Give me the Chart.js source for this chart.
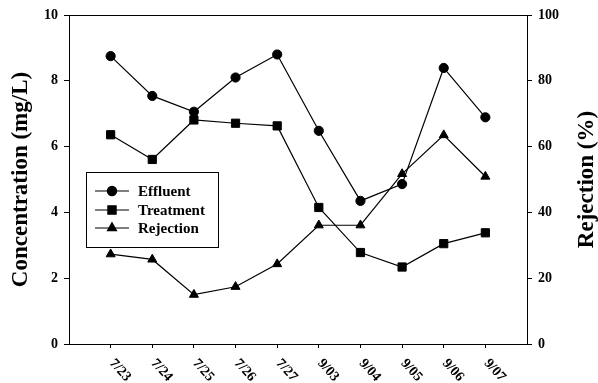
<!DOCTYPE html>
<html>
<head>
<meta charset="utf-8">
<script src="https://cdn.jsdelivr.net/npm/chart.js@4"></script>
<style>
  html, body { margin: 0; padding: 0; background: #fff; }
  #wrap { width: 598px; height: 383px; }
</style>
</head>
<body>
<div id="wrap"><canvas id="c" width="598" height="383"></canvas></div>
<script>
// Sampling dates (July and September)
const dates = ['7/23', '7/24', '7/25', '7/26', '7/27', '9/03', '9/04', '9/05', '9/06', '9/07'];
// Concentrations, mg/L
const effluent = [8.75, 7.54, 7.06, 8.10, 8.80, 6.48, 4.35, 4.86, 8.39, 6.89];
const treatment = [6.36, 5.61, 6.81, 6.71, 6.63, 4.15, 2.78, 2.34, 3.05, 3.38];
// Rejection, %
const rejection = [27.3, 25.7, 15.0, 17.4, 24.3, 36.1, 36.1, 51.7, 63.5, 50.9];
// Axis tick values
const concTicks = [0, 2, 4, 6, 8, 10];
const rejTicks = [0, 20, 40, 60, 80, 100];

const FONT = '"Liberation Serif", "Times New Roman", serif';

const toPoints = arr => arr.map((v, i) => ({ x: i + 1, y: v }));

const series = [
  { label: 'Effluent', data: effluent, style: 'circle', radius: 4.6, axis: 'y' },
  { label: 'Treatment', data: treatment, style: 'rect', radius: 5.8, axis: 'y' },
  { label: 'Rejection', data: rejection, style: 'triangle', radius: 5.2, axis: 'y1' }
];

// Frame, rotated date labels, axis titles and the boxed legend
const decorations = {
  id: 'decorations',
  afterDraw(chart) {
    const { ctx, chartArea: a } = chart;
    const xs = chart.scales.x;
    ctx.save();
    ctx.strokeStyle = '#000';
    ctx.lineWidth = 1;
    ctx.beginPath();
    ctx.moveTo(a.left, a.top + 0.5);
    ctx.lineTo(a.right, a.top + 0.5);
    ctx.stroke();

    // date labels slanting down to the right
    ctx.fillStyle = '#000';
    ctx.font = 'bold 14px ' + FONT;
    ctx.textAlign = 'left';
    ctx.textBaseline = 'middle';
    dates.forEach((d, i) => {
      const px = xs.getPixelForValue(i + 1);
      ctx.save();
      ctx.translate(px + 1, a.bottom + 17);
      ctx.rotate(48 * Math.PI / 180);
      ctx.fillText(d, 0, 0);
      ctx.restore();
    });

    // axis titles
    ctx.font = 'bold 23px ' + FONT;
    ctx.textAlign = 'center';
    ctx.textBaseline = 'middle';
    const midY = (a.top + a.bottom) / 2;
    ctx.save();
    ctx.translate(21, midY);
    ctx.rotate(-Math.PI / 2);
    ctx.fillText('Concentration (mg/L)', 0, 0);
    ctx.restore();
    ctx.save();
    ctx.translate(587, midY);
    ctx.rotate(-Math.PI / 2);
    ctx.fillText('Rejection (%)', 0, 0);
    ctx.restore();

    // legend box
    const lx = 86, ly = 172, lw = 132, lh = 75;
    ctx.fillStyle = '#fff';
    ctx.fillRect(lx, ly, lw, lh);
    ctx.strokeStyle = '#000';
    ctx.lineWidth = 1;
    ctx.strokeRect(lx + 0.5, ly + 0.5, lw, lh);
    const rows = [191, 210, 228];
    ctx.font = 'bold 15px ' + FONT;
    ctx.textAlign = 'left';
    series.forEach((s, i) => {
      const y = rows[i];
      ctx.strokeStyle = '#000';
      ctx.lineWidth = 1.2;
      ctx.beginPath();
      ctx.moveTo(95, y);
      ctx.lineTo(129, y);
      ctx.stroke();
      ctx.fillStyle = '#000';
      Chart.helpers.drawPoint(ctx, { pointStyle: s.style, radius: s.radius, borderWidth: 1 }, 112, y);
      ctx.fillStyle = '#000';
      ctx.fillText(s.label, 138, y + 1);
    });
    ctx.restore();
  }
};

new Chart(document.getElementById('c'), {
  type: 'line',
  data: {
    datasets: series.map(s => ({
      label: s.label,
      data: toPoints(s.data),
      yAxisID: s.axis,
      borderColor: '#000',
      backgroundColor: '#000',
      borderWidth: 1.2,
      pointStyle: s.style,
      pointRadius: s.radius,
      pointBorderWidth: 1,
      pointBackgroundColor: '#000',
      pointBorderColor: '#000',
      tension: 0,
      clip: false
    }))
  },
  options: {
    responsive: false,
    animation: false,
    devicePixelRatio: 1,
    layout: { padding: { top: 15, left: 0, right: 0, bottom: 0 } },
    plugins: { legend: { display: false }, tooltip: { enabled: false } },
    scales: {
      x: {
        type: 'linear',
        min: 0,
        max: dates.length + 1,
        afterBuildTicks: s => { s.ticks = dates.map((d, i) => ({ value: i + 1 })); },
        afterFit: s => { s.height = 39; },
        ticks: { display: false },
        grid: { drawOnChartArea: false, drawTicks: true, tickLength: 4, color: '#000' },
        border: { display: true, color: '#000', width: 1 }
      },
      y: {
        position: 'left',
        min: 0,
        max: 10,
        afterBuildTicks: s => { s.ticks = concTicks.map(v => ({ value: v })); },
        afterFit: s => { s.width = 69; },
        ticks: { color: '#000', padding: 6, font: { family: FONT, size: 14, weight: 'bold' } },
        grid: { drawOnChartArea: false, drawTicks: true, tickLength: 5, color: '#000' },
        border: { display: true, color: '#000', width: 1 }
      },
      y1: {
        position: 'right',
        min: 0,
        max: 100,
        afterBuildTicks: s => { s.ticks = rejTicks.map(v => ({ value: v })); },
        afterFit: s => { s.width = 71; },
        ticks: { color: '#000', padding: 6, font: { family: FONT, size: 14, weight: 'bold' } },
        grid: { drawOnChartArea: false, drawTicks: true, tickLength: 5, color: '#000' },
        border: { display: true, color: '#000', width: 1 }
      }
    }
  },
  plugins: [decorations]
});
</script>
</body>
</html>
